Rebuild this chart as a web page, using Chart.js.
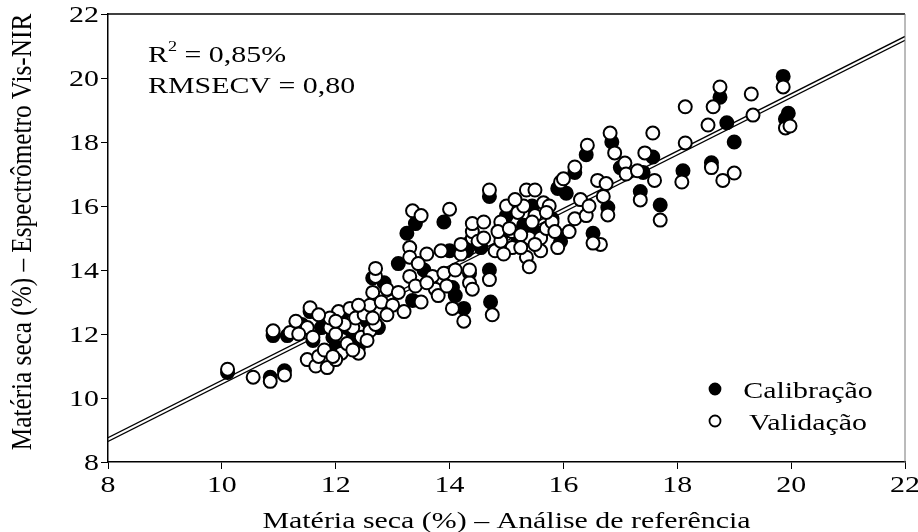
<!DOCTYPE html>
<html>
<head>
<meta charset="utf-8">
<script src="https://cdn.jsdelivr.net/npm/chart.js@4.4.0/dist/chart.umd.min.js"></script>
<style>
  html, body { margin: 0; padding: 0; background: #fff; }
  #wrap { width: 918px; height: 532px; }
</style>
</head>
<body>
<div id="wrap"><canvas id="grafico" width="918" height="532"></canvas></div>
<script>
// Calibração (pontos pretos)
var calX = [10.10, 10.85, 11.10, 10.90, 11.15, 11.55, 11.60, 11.75, 11.95, 12.10, 12.30, 12.40, 12.55, 12.75, 12.65, 12.85,
            13.25, 13.40, 13.90, 13.35, 13.55, 14.05, 14.10, 14.25, 14.35, 14.30, 14.35, 14.55, 14.70, 14.70, 14.72, 14.90,
            15.00, 15.20, 15.30, 15.45, 15.50, 15.60, 15.95, 15.90, 16.05, 16.20, 16.40, 16.52, 16.78, 16.85, 17.00, 17.40,
            17.35, 17.57, 17.70, 18.10, 18.60, 18.87, 19.00, 18.75, 19.86, 19.95, 19.90, 12.20, 11.40, 12.00, 13.10, 15.80, 14.00];
var calY = [10.80, 10.65, 10.85, 11.95, 11.95, 12.70, 11.80, 12.20, 11.90, 12.60, 12.00, 11.60, 12.40, 12.20, 13.75, 13.60,
            15.15, 15.45, 15.50, 13.05, 14.00, 13.45, 13.20, 12.80, 13.90, 14.60, 14.85, 14.70, 16.30, 14.00, 13.00, 15.05,
            15.70, 14.90, 15.40, 16.00, 15.20, 15.10, 14.90, 16.55, 16.40, 17.05, 17.60, 15.15, 15.95, 18.00, 17.20, 17.05,
            16.45, 17.53, 16.03, 17.10, 17.35, 18.60, 18.00, 19.40, 20.05, 18.90, 18.72, 12.20, 12.30, 11.60, 14.20, 15.60, 14.60];

// Validação (pontos brancos)
var valX = [10.10, 10.55, 10.85, 11.10, 10.90, 11.20, 11.30, 11.55, 11.50, 11.60, 11.50, 11.65, 11.70, 11.85, 11.80, 11.90,
            12.00, 12.05, 12.10, 12.20, 12.25, 12.30, 12.35, 12.40, 12.45, 12.50, 12.60, 12.55, 12.00, 12.70, 12.70, 12.65,
            12.60, 12.90, 12.80, 13.00, 13.10, 13.20, 12.90, 12.70, 13.35, 13.50, 13.30, 13.30, 13.30, 13.40, 13.50, 13.60,
            13.70, 13.75, 13.90, 14.00, 13.80, 13.95, 14.10, 14.05, 14.20, 14.25, 14.35, 14.35, 14.40, 14.40, 14.40, 14.50,
            14.60, 14.70, 14.70, 14.75, 14.80, 14.90, 14.90, 15.00, 15.10, 15.10, 15.20, 15.30, 15.35, 15.35, 15.40, 15.40,
            15.50, 15.50, 15.60, 15.60, 15.65, 15.70, 15.80, 15.50, 15.75, 15.90, 15.95, 16.00, 16.10, 16.20, 16.20, 16.30,
            16.40, 16.45, 16.42, 16.60, 16.65, 16.52, 16.70, 16.75, 16.82, 16.78, 16.90, 17.08, 17.10, 17.30, 17.43, 17.60,
            17.35, 17.57, 17.70, 18.14, 18.14, 18.08, 18.60, 18.80, 19.00, 18.54, 18.63, 18.75, 19.30, 19.33, 19.86, 19.90,
            19.98, 14.40, 13.45, 11.90, 12.30, 11.35, 11.70, 12.15, 12.40, 11.95, 12.65, 12.00, 14.60, 14.85, 15.05, 15.25,
            15.45, 15.15, 15.70, 15.85, 14.95, 15.25, 13.60, 14.20, 13.85];
var valY = [10.90, 10.65, 10.52, 10.72, 12.10, 12.05, 12.40, 12.82, 12.20, 11.90, 11.20, 11.00, 11.30, 10.95, 11.50, 12.20,
            12.00, 12.70, 11.40, 11.70, 12.80, 12.20, 12.50, 11.40, 11.90, 12.60, 12.10, 11.80, 11.20, 13.80, 14.05, 13.30,
            12.90, 13.40, 13.00, 12.90, 13.30, 12.70, 12.60, 12.30, 15.85, 15.70, 14.70, 14.40, 13.80, 13.50, 13.00, 14.50,
            13.80, 13.40, 13.90, 15.90, 13.20, 13.50, 14.00, 12.80, 14.50, 12.40, 13.60, 14.00, 15.00, 15.20, 15.45, 14.90,
            15.00, 16.50, 13.70, 12.60, 14.60, 14.90, 15.50, 16.00, 14.70, 15.20, 15.80, 16.00, 16.50, 14.40, 14.10, 15.00,
            16.50, 15.70, 15.00, 14.60, 16.10, 15.30, 15.50, 14.80, 16.00, 14.70, 16.75, 16.85, 15.20, 15.60, 17.22, 16.20,
            15.70, 16.00, 17.90, 16.80, 14.80, 14.84, 16.30, 16.70, 18.28, 15.72, 17.66, 17.34, 17.00, 17.10, 17.66, 16.80,
            16.19, 18.28, 15.56, 17.97, 19.10, 16.75, 17.20, 16.80, 17.03, 18.53, 19.10, 19.72, 19.50, 18.84, 19.72, 18.44,
            18.50, 13.40, 14.20, 12.50, 11.50, 12.00, 12.60, 12.30, 12.90, 11.30, 12.50, 12.40, 15.50, 15.20, 15.30, 15.10,
            15.50, 16.20, 15.80, 15.20, 14.50, 14.70, 13.60, 14.80, 14.60];

// retas de ajuste (extremos)
var retaX = [8, 22];
var retaY1 = [8.76, 21.30];
var retaY2 = [8.64, 21.18];

var eixoMin = 8, eixoMax = 22, eixoPasso = 2;
var tituloX = 'Matéria seca (%) – Análise de referência';
var tituloY = 'Matéria seca (%) – Espectrômetro Vis-NIR';
var legendas = ['Calibração', 'Validação'];
var estat = ['R', '2', ' = 0,85%', 'RMSECV = 0,80'];

function pares(xs, ys) {
    return xs.map(function (x, i) { return { x: x, y: ys[i] }; });
}

var fonte = '"Liberation Serif", "Times New Roman", serif';
var esticar = 1.3;   // o texto da figura original esta esticado na horizontal

function texto(ctx, str, x, y, align) {
    var w = ctx.measureText(str).width * esticar;
    var x0 = align === 'center' ? x - w / 2 : (align === 'right' ? x - w : x);
    ctx.save();
    ctx.translate(x0, y);
    ctx.scale(esticar, 1);
    ctx.textAlign = 'left';
    ctx.fillText(str, 0, 0);
    ctx.restore();
    return w;
}

var textos = {
    id: 'textos',
    afterDraw: function (chart) {
        var ctx = chart.ctx;
        var a = chart.chartArea;
        var sx = chart.scales.x, sy = chart.scales.y;

        // moldura de cima e da direita
        ctx.save();
        ctx.strokeStyle = '#000';
        ctx.lineWidth = 1.5;
        ctx.beginPath();
        ctx.moveTo(a.left, a.top);
        ctx.lineTo(a.right, a.top);
        ctx.stroke();
        ctx.strokeStyle = '#777';
        ctx.lineWidth = 1;
        ctx.beginPath();
        ctx.moveTo(a.right, a.top);
        ctx.lineTo(a.right, a.bottom);
        ctx.stroke();

        ctx.fillStyle = '#000';
        ctx.textBaseline = 'alphabetic';
        ctx.font = '23px ' + fonte;

        // rotulos dos eixos
        sx.ticks.forEach(function (t) {
            texto(ctx, String(t.value), sx.getPixelForValue(t.value), a.bottom + 30, 'center');
        });
        sy.ticks.forEach(function (t) {
            texto(ctx, String(t.value), a.left - 9, sy.getPixelForValue(t.value) + 8, 'right');
        });

        // titulos
        texto(ctx, tituloX, (a.left + a.right) / 2, 528, 'center');
        ctx.save();
        ctx.font = '24.5px ' + fonte;
        ctx.translate(31, (a.top + a.bottom) / 2 - 6);
        ctx.rotate(-Math.PI / 2);
        ctx.scale(1.03, 1.2);
        ctx.textAlign = 'center';
        ctx.fillText(tituloY, 0, 0);
        ctx.restore();

        // estatisticas
        var x = a.left + 40;
        x += texto(ctx, estat[0], x, 62, 'left');
        ctx.font = '14px ' + fonte;
        x += texto(ctx, estat[1], x, 51, 'left');
        ctx.font = '23px ' + fonte;
        texto(ctx, estat[2], x, 62, 'left');
        texto(ctx, estat[3], a.left + 40, 93, 'left');

        // legenda
        ctx.lineWidth = 1.8;
        ctx.strokeStyle = '#000';
        ctx.beginPath();
        ctx.arc(a.right - 190, 389, 5.5, 0, Math.PI * 2);
        ctx.fillStyle = '#000';
        ctx.fill();
        ctx.stroke();
        ctx.beginPath();
        ctx.arc(a.right - 190, 421, 5.5, 0, Math.PI * 2);
        ctx.fillStyle = '#fff';
        ctx.fill();
        ctx.stroke();
        ctx.fillStyle = '#000';
        texto(ctx, legendas[0], a.right - 97, 398, 'center');
        texto(ctx, legendas[1], a.right - 97, 430, 'center');
        ctx.restore();
    }
};

var ctx = document.getElementById('grafico').getContext('2d');
new Chart(ctx, {
    type: 'scatter',
    data: {
        datasets: [{
            label: legendas[1],
            data: pares(valX, valY),
            backgroundColor: '#fff',
            borderColor: '#000',
            borderWidth: 2,
            pointRadius: 6.5
        }, {
            label: legendas[0],
            data: pares(calX, calY),
            backgroundColor: '#000',
            borderColor: '#000',
            borderWidth: 2,
            pointRadius: 6.5
        }, {
            type: 'line',
            data: pares(retaX, retaY1),
            borderColor: '#000',
            borderWidth: 1.3,
            pointRadius: 0
        }, {
            type: 'line',
            data: pares(retaX, retaY2),
            borderColor: '#000',
            borderWidth: 1.3,
            pointRadius: 0
        }]
    },
    options: {
        responsive: false,
        devicePixelRatio: 1,
        animation: false,
        layout: { padding: { top: 14, right: 13, left: 0, bottom: 0 } },
        plugins: {
            legend: { display: false },
            tooltip: { enabled: false }
        },
        scales: {
            x: {
                type: 'linear',
                min: eixoMin,
                max: eixoMax,
                ticks: { stepSize: eixoPasso, display: false },
                grid: { drawOnChartArea: false, drawTicks: true, tickLength: 7, color: '#000' },
                border: { color: '#000', width: 1.5 },
                afterFit: function (scale) { scale.height = 70; }
            },
            y: {
                type: 'linear',
                min: eixoMin,
                max: eixoMax,
                ticks: { stepSize: eixoPasso, display: false },
                grid: { drawOnChartArea: false, drawTicks: true, tickLength: 7, color: '#000' },
                border: { color: '#000', width: 1.5 },
                afterFit: function (scale) { scale.width = 108; }
            }
        }
    },
    plugins: [textos]
});
</script>
</body>
</html>
